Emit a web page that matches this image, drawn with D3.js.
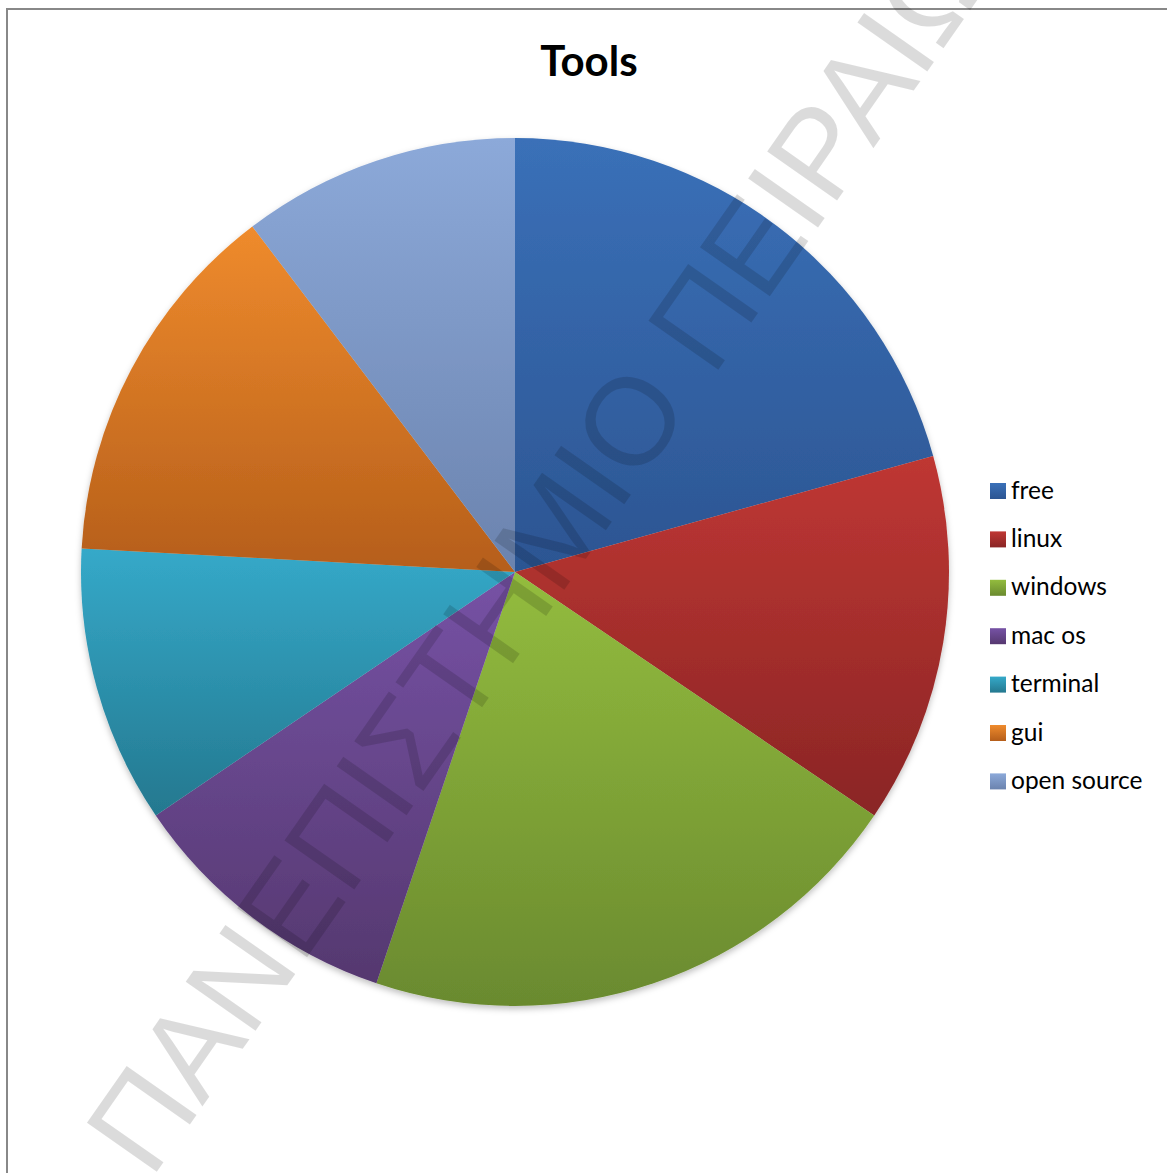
<!DOCTYPE html>
<html>
<head>
<meta charset="utf-8">
<script src="https://cdn.jsdelivr.net/npm/d3@7"></script>
<style>
  html, body { margin: 0; padding: 0; background: #fff; }
  svg { display: block; }
</style>
</head>
<body>
<script>
// Pie data
const categories = ["free", "linux", "windows", "mac os", "terminal", "gui", "open source"];
const values = [6, 4, 6, 3, 3, 4, 3];
// Shaded fills: lighter at the top of each piece, darker at the bottom
const topColors = ["#3a70b8", "#bf3733", "#93bc3e", "#7652a5", "#35a9c9", "#ef8b2d", "#8ca9d9"];
const bottomColors = ["#2c5592", "#8a2525", "#6a8a2f", "#55386f", "#24788f", "#b55e1a", "#6b83ae"];
const title = "Tools";
const watermark = "ΠΑΝΕΠΙΣΤΗΜΙΟ ΠΕΙΡΑΙΩΣ";

const W = 1167, H = 1173;
const svg = d3.select("body").append("svg").attr("width", W).attr("height", H);
const defs = svg.append("defs");

// Outer soft shadow under the pie
const shadow = defs.append("filter").attr("id", "pieShadow")
  .attr("x", "-10%").attr("y", "-10%").attr("width", "120%").attr("height", "120%");
shadow.append("feDropShadow").attr("dx", 0).attr("dy", 3).attr("stdDeviation", 3)
  .attr("flood-color", "#000").attr("flood-opacity", 0.25);

categories.forEach((c, i) => {
  const g = defs.append("linearGradient").attr("id", "grad" + i)
    .attr("x1", 0).attr("y1", 0).attr("x2", 0).attr("y2", 1);
  g.append("stop").attr("offset", "0%").attr("stop-color", topColors[i]);
  g.append("stop").attr("offset", "100%").attr("stop-color", bottomColors[i]);
});

// Chart frame
svg.append("rect").attr("x", 7).attr("y", 9).attr("width", W + 20).attr("height", H + 20)
  .attr("fill", "none").attr("stroke", "#888").attr("stroke-width", 2);

// Title
svg.append("text").attr("x", 589).attr("y", 76).attr("text-anchor", "middle")
  .attr("font-family", "Lato, 'Open Sans', sans-serif").attr("font-weight", "bold")
  .attr("font-size", 42).attr("fill", "#000").text(title);

// Pie
const cx = 515, cy = 572, r = 434;
const pie = d3.pie().sort(null).value(d => d.value);
const arc = d3.arc().innerRadius(0).outerRadius(r);
const data = categories.map((c, i) => ({ name: c, value: values[i], i }));

const pieG = svg.append("g").attr("transform", `translate(${cx},${cy})`).attr("filter", "url(#pieShadow)");
pieG.selectAll("path").data(pie(data)).join("path")
  .attr("d", arc)
  .attr("fill", d => `url(#grad${d.data.i})`);

// Legend
const legend = svg.append("g").attr("transform", "translate(990,483)");
const rowH = 48.4;
const items = legend.selectAll("g").data(data).join("g")
  .attr("transform", (d, i) => `translate(0,${i * rowH})`);
items.append("rect").attr("width", 16).attr("height", 16)
  .attr("fill", d => `url(#grad${d.i})`);
items.append("text").attr("x", 21).attr("y", 15.5)
  .attr("font-family", "Lato, 'Open Sans', sans-serif").attr("font-size", 24.5)
  .attr("fill", "#000").text(d => d.name);

// Watermark across the page
svg.append("text")
  .attr("transform", "translate(151,1180) rotate(-55)")
  .attr("font-family", "'Liberation Sans', Arial, sans-serif")
  .attr("font-size", 124)
  .attr("fill", "#000").attr("fill-opacity", 0.14)
  .text(watermark);
</script>
</body>
</html>
